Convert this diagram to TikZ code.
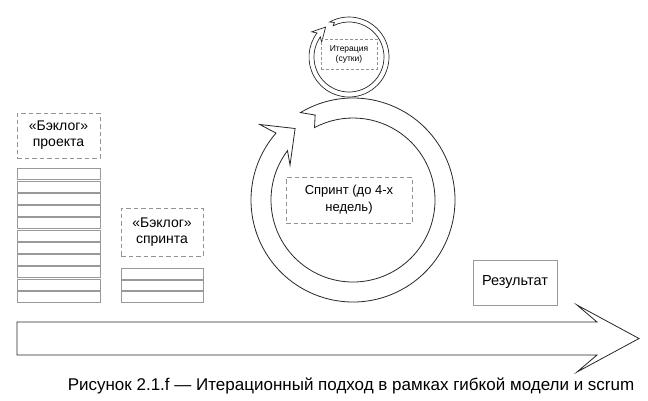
\documentclass[tikz,border=0pt]{standalone}
\usepackage{fontspec}
\setmainfont{Liberation Sans}
\usetikzlibrary{positioning}
\tikzset{
  dashbox/.style={draw=gray!85, dash pattern=on 4.5pt off 3pt, line width=0.9pt, align=center, inner sep=0pt},
  barbox/.style={draw=gray!80, line width=0.9pt, minimum width=83pt, inner sep=0pt},
  ringline/.style={draw=black!85, line width=0.8pt, line join=miter},
}
\begin{document}
\begin{tikzpicture}[x=1pt,y=-1pt]
\useasboundingbox (0,0) rectangle (648,400);
%\draw[step=50,gray!30,very thin] (0,0) grid (648,400); %background grid

% backlog of the project
\node[dashbox, minimum width=83pt, minimum height=45pt, font=\fontsize{14}{16}\selectfont] (prjlog) at (58.5,135.5)
  {«Бэклог»\\ проекта};
\foreach \i in {0,...,10}
  \node[barbox, minimum height=11pt] (prj\i) at (58.5,174.2+12.27*\i) {};

% backlog of the sprint
\node[dashbox, minimum width=82pt, minimum height=48pt, font=\fontsize{14}{16}\selectfont] (sprlog) at (162,232)
  {«Бэклог»\\ спринта};
\foreach \i in {0,...,2}
  \node[barbox, minimum width=82pt, minimum height=10.5pt] (spr\i) at (162,273.8+11.67*\i) {};

% big cycle: the sprint
\begin{scope}[shift={(353,200)}, yscale=-1]
\draw[ringline] (121:102) arc[start angle=121, end angle=-221, radius=102]
  -- (141:120) -- (129:92) -- (151:72) -- (143:82)
  arc[start angle=-217, end angle=118, radius=82] -- (114:93) -- cycle;
\end{scope}
\node[dashbox, minimum width=126pt, minimum height=46pt, font=\fontsize{13}{17}\selectfont] (sprint) at (349,200)
  {Спринт (до 4-х\\ недель)};

% small cycle: the day
\begin{scope}[shift={(349,57)}, yscale=-1]
\draw[ringline, line width=0.7pt] (119:40) arc[start angle=119, end angle=-217, radius=40]
  -- (146:45) -- (128:38) -- (152:31) -- (145:35)
  arc[start angle=-215, end angle=117, radius=35] -- (113:37.5) -- cycle;
\end{scope}
\node[dashbox, line width=0.7pt, dash pattern=on 3pt off 2pt, minimum width=56pt, minimum height=30pt, font=\fontsize{8.5}{10}\selectfont] (iter) at (349,54)
  {Итерация\\ (сутки)};

% result
\node[draw=gray!80, line width=0.9pt, minimum width=84pt, minimum height=45pt, inner sep=0pt, font=\fontsize{14.5}{16}\selectfont] (result) at (515,282.5)
  {Результат};

% time arrow
\draw[ringline] (17,322) -- (597,322) -- (577,305) -- (639,338.5) -- (577,372) -- (597,355) -- (17,355) -- cycle;

\node[font=\fontsize{17}{19}\selectfont] (caption) at (351,386) {Рисунок 2.1.f — Итерационный подход в рамках гибкой модели и scrum};
\end{tikzpicture}
\end{document}
